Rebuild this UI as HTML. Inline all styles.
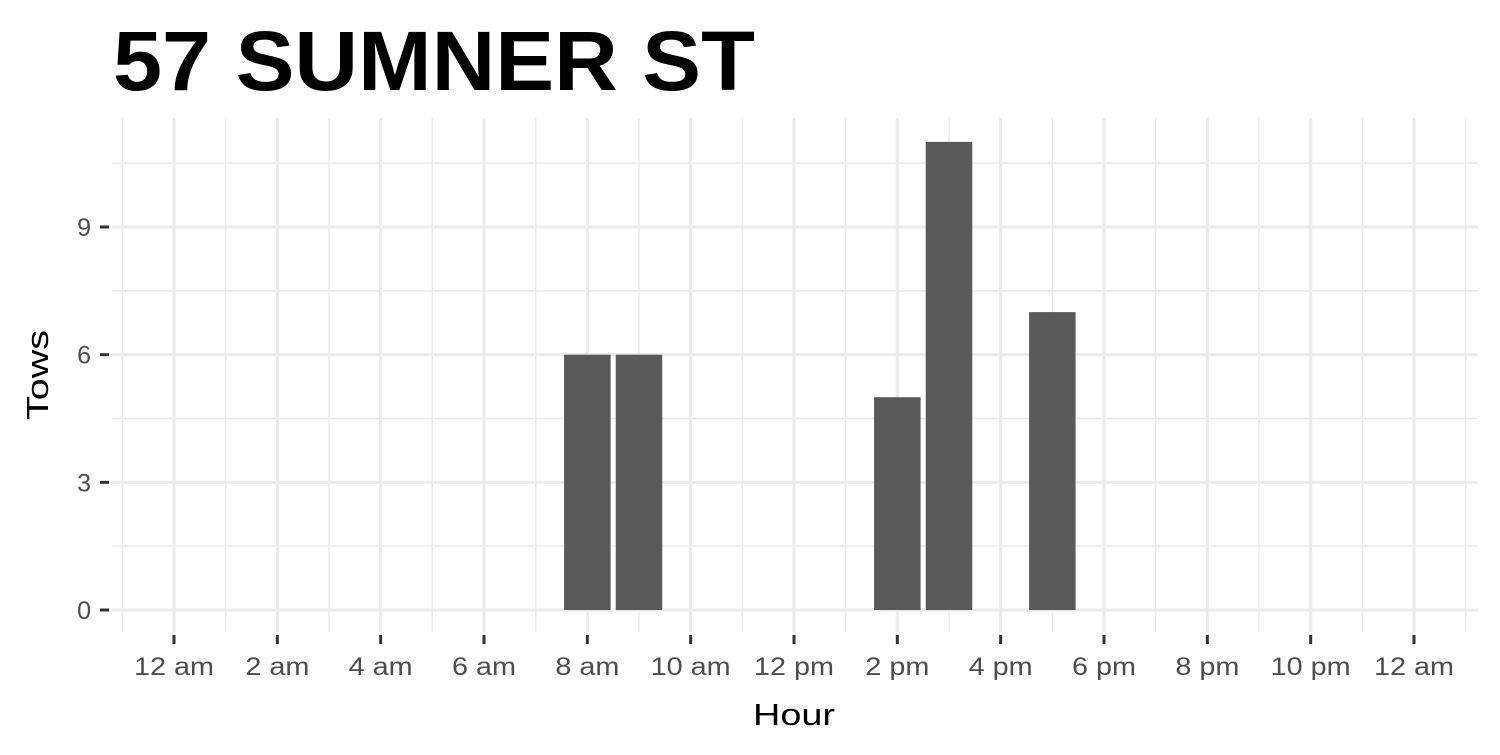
<!DOCTYPE html>
<html><head><meta charset="utf-8"><style>
body{margin:0;background:#fff;width:1500px;height:750px;overflow:hidden;font-family:"Liberation Sans",sans-serif}
</style></head><body>
<svg id="chart" width="1500" height="750" xmlns="http://www.w3.org/2000/svg">
<text x="113" y="90" font-size="84" font-weight="bold" fill="#000" textLength="642" lengthAdjust="spacingAndGlyphs" font-family="Liberation Sans, sans-serif">57 SUMNER ST</text>
<g id="grid"></g>
<g id="bars"></g>
<g id="axes"></g>
<text transform="translate(48,375) rotate(-90)" text-anchor="middle" font-size="31" textLength="90" lengthAdjust="spacingAndGlyphs" fill="#000">Tows</text>
<text x="794" y="725" text-anchor="middle" font-size="31" textLength="82" lengthAdjust="spacingAndGlyphs" fill="#000">Hour</text>
</svg>
<script>
const hours=[8,9,14,15,17];
const tows=[6,6,5,11,7];
const xTickValues=[0,2,4,6,8,10,12,14,16,18,20,22,24];
const xTickLabels=["12 am","2 am","4 am","6 am","8 am","10 am","12 pm","2 pm","4 pm","6 pm","8 pm","10 pm","12 am"];
const yTickValues=[0,3,6,9];
const yTickLabels=["0","3","6","9"];
const NS="http://www.w3.org/2000/svg";
const L=112,R=1478,T=118,B=632;
const xs=h=>174+h*(1414-174)/24;
const ys=v=>610-v*(610-227)/9;
const bw=(1414-174)/24*0.9;
function mk(tag,attrs,parent,txt){const e=document.createElementNS(NS,tag);for(const k in attrs)e.setAttribute(k,attrs[k]);if(txt!==undefined)e.textContent=txt;document.getElementById(parent).appendChild(e);return e;}
for(let h=-1;h<=25;h+=2){const l=mk('line',{x1:xs(h),x2:xs(h),y1:T,y2:B,stroke:'#ebebeb','stroke-width':1.5},'grid');

}
for(let v=1.5;v<=10.5;v+=3){const l=mk('line',{x1:L,x2:R,y1:ys(v),y2:ys(v),stroke:'#ebebeb','stroke-width':1.5},'grid');

}
xTickValues.forEach(h=>{const l=mk('line',{x1:xs(h),x2:xs(h),y1:T,y2:B,stroke:'#ebebeb','stroke-width':3},'grid');

});
yTickValues.forEach(v=>{const l=mk('line',{x1:L,x2:R,y1:ys(v),y2:ys(v),stroke:'#ebebeb','stroke-width':3},'grid');

});
hours.forEach((h,i)=>{const r=mk('rect',{x:xs(h)-bw/2,y:ys(tows[i]),width:bw,height:ys(0)-ys(tows[i]),fill:'#595959'},'bars');

});
xTickValues.forEach((h,i)=>{const t=mk('line',{x1:xs(h),x2:xs(h),y1:635,y2:644,stroke:'#333','stroke-width':3},'axes');


const tx=mk('text',{x:xs(h),y:675,'text-anchor':'middle','font-size':25,fill:'#4d4d4d',textLength:xTickLabels[i].length*16,lengthAdjust:'spacingAndGlyphs'},'axes',xTickLabels[i]);

});
yTickValues.forEach((v,i)=>{const t=mk('line',{x1:100,x2:109,y1:ys(v),y2:ys(v),stroke:'#333','stroke-width':3},'axes');


const tx=mk('text',{x:91,y:ys(v)+9,'text-anchor':'end','font-size':25,fill:'#4d4d4d'},'axes',yTickLabels[i]);

});
</script>
</body></html>
